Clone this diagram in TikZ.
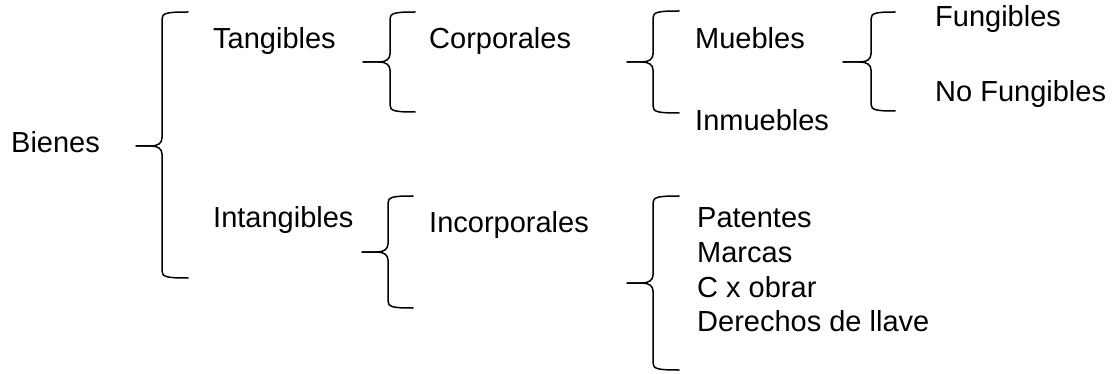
\documentclass[tikz,border=0pt]{standalone}
\usepackage{fontspec}
\setmainfont{Liberation Sans}
\tikzset{
  lbl/.style={anchor=base west, inner sep=0pt, font=\fontsize{29}{34}\selectfont},
  bracestroke/.style={line width=1.5pt, line cap=round, line join=round}
}
% #1 vertical x, #2 tip x, #3 hook end x, #4 top y, #5 middle y, #6 bottom y
\newcommand\mybrace[6]{%
  \draw[bracestroke] (#2,#5) -- (#1-11,#5) .. controls (#1-4,#5) and (#1,#5-3) .. (#1,#5-8)
     -- (#1,#4+7) .. controls (#1,#4+1) and (#1+5,#4) .. (#3,#4);
  \draw[bracestroke] (#2,#5) -- (#1-11,#5) .. controls (#1-4,#5) and (#1,#5+3) .. (#1,#5+8)
     -- (#1,#6-7) .. controls (#1,#6-1) and (#1+5,#6) .. (#3,#6);
}
\begin{document}
\begin{tikzpicture}[x=1pt,y=-1pt]
\useasboundingbox (0,0) rectangle (1116,374);
% braces
\mybrace{162}{136}{188}{12}{146}{278}
\mybrace{390}{363}{415}{12}{62}{112}
\mybrace{653}{627}{679}{11}{62}{113}
\mybrace{871}{843}{895}{12}{62}{111}
\mybrace{388}{362}{413}{196}{252}{308}
\mybrace{653}{627}{679}{196}{283}{370}
% labels
\node[lbl] (bienes) at (11,153) {Bienes};
\node[lbl] (tang) at (213,49) {Tangibles};
\node[lbl] (intang) at (213,227) {Intangibles};
\node[lbl] (corp) at (429,49) {Corporales};
\node[lbl] (incorp) at (429,233) {Incorporales};
\node[lbl] (mueb) at (695,49) {Muebles};
\node[lbl] (inmueb) at (695,131) {Inmuebles};
\node[lbl] (fung) at (935,27) {Fungibles};
\node[lbl] (nofung) at (935,102) {No Fungibles};
\node[lbl] (pat) at (697,227) {Patentes};
\node[lbl] (marc) at (697,262) {Marcas};
\node[lbl] (cxo) at (697,297) {C x obrar};
\node[lbl] (der) at (697,331) {Derechos de llave};
\end{tikzpicture}
\end{document}
